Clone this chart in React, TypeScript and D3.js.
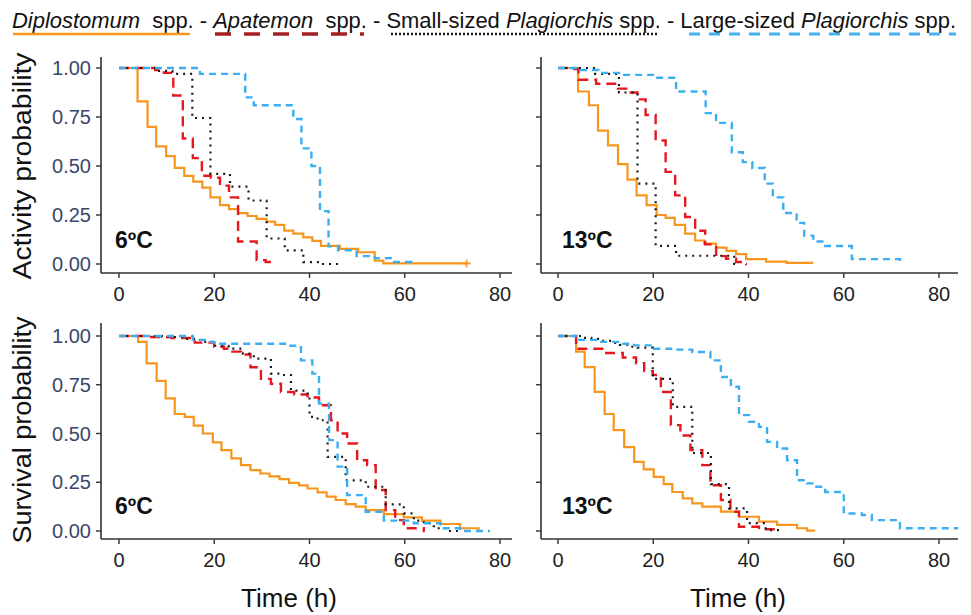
import React from 'react';
import * as d3 from 'd3';

type Pt = [number, number];

const timeTicks = [0, 20, 40, 60, 80];
const probTicks = [0, 0.25, 0.5, 0.75, 1];
const probLabels = ['0.00', '0.25', '0.50', '0.75', '1.00'];
const rowTitles = ['Activity probability', 'Survival probability'];
const colTemps = ['6ºC', '13ºC'];
const xTitle = 'Time (h)';

// ---- Activity, 6ºC ----
const dipAct6: Pt[] = [[0,1],[3.9,0.83],[6,0.70],[7.8,0.60],[9.9,0.55],[11.7,0.49],[13.7,0.45],[15.6,0.42],[17.5,0.39],[19.2,0.34],[21.2,0.30],[23.1,0.28],[25,0.26],[27,0.245],[28.9,0.23],[31,0.216],[32.8,0.20],[34.7,0.17],[36.6,0.155],[38.7,0.136],[40.6,0.118],[42.4,0.092],[46.4,0.077],[50.2,0.06],[53.7,0.017],[55.5,0.003],[73,0.003]];
const apaAct6: Pt[] = [[0,1],[7.6,0.99],[9.4,0.975],[11.4,0.86],[13.4,0.64],[15.5,0.54],[17.4,0.45],[19.3,0.44],[21.2,0.40],[23.1,0.34],[25,0.115],[28.9,0.02],[30.8,0.01],[32.6,0.01]];
const plaSAct6: Pt[] = [[0,1],[7.7,0.985],[11.2,0.97],[15.4,0.745],[19.2,0.46],[23.3,0.395],[27.2,0.324],[31,0.13],[34.8,0.07],[38.7,0.01],[42.4,0],[46,0]];
const plaLAct6: Pt[] = [[0,1],[17,0.97],[26.5,0.85],[28.3,0.81],[36.6,0.74],[38.3,0.59],[40.4,0.50],[42.2,0.27],[44,0.09],[46,0.07],[49.9,0.04],[53.7,0.03],[57.5,0.01],[61.4,0],[61.6,0]];

// ---- Activity, 13ºC ----
const dipAct13: Pt[] = [[0,1],[4.2,0.88],[6.5,0.81],[8.4,0.68],[10.5,0.605],[12.6,0.51],[14.6,0.43],[16.5,0.35],[18.6,0.30],[20.7,0.25],[22.6,0.235],[24.5,0.20],[26.7,0.155],[28.8,0.12],[30.7,0.104],[33.2,0.084],[35.4,0.067],[37.4,0.05],[39.5,0.025],[43.7,0.012],[48,0.006],[53.6,0.006]];
const apaAct13: Pt[] = [[0,1],[3,0.995],[4.3,0.94],[8,0.92],[12.6,0.895],[14.6,0.875],[16.7,0.84],[18.4,0.76],[20.5,0.63],[22.6,0.47],[24.6,0.35],[26.7,0.24],[28.8,0.17],[30.9,0.10],[33.2,0.04],[35.3,0.027],[37.4,0.01],[39.5,0],[39.7,0]];
const plaSAct13: Pt[] = [[0,1],[7.8,0.97],[12.8,0.875],[16.7,0.41],[20.5,0.092],[24.8,0.042],[37,0],[37.3,0]];
const plaLAct13: Pt[] = [[0,1],[4,0.99],[8.5,0.975],[12.8,0.965],[20.5,0.95],[24.8,0.88],[31,0.77],[33.2,0.72],[36.5,0.57],[38.8,0.52],[40.8,0.49],[43.4,0.41],[45.1,0.34],[47.3,0.26],[50.1,0.21],[51.7,0.145],[53.6,0.115],[55.8,0.092],[61.7,0.025],[71.8,0.01],[72.2,0.01]];

// ---- Survival, 6ºC ----
const dipSurv6: Pt[] = [[0,1],[4,0.97],[5.8,0.86],[7.9,0.77],[9.8,0.68],[11.7,0.60],[13.8,0.585],[15.7,0.54],[17.6,0.50],[19.7,0.454],[21.5,0.415],[23.6,0.372],[25.6,0.338],[27.6,0.312],[29.7,0.295],[31.6,0.28],[33.7,0.266],[35.7,0.247],[37.8,0.234],[39.6,0.218],[41.7,0.198],[43.6,0.176],[45.5,0.159],[47.6,0.138],[49.7,0.125],[51.8,0.107],[55.6,0.087],[59.8,0.07],[63.6,0.053],[67.5,0.036],[71.6,0.014],[75.5,0],[75.7,0]];
const apaSurv6: Pt[] = [[0,1],[6.5,0.995],[11,0.99],[15.9,0.966],[20,0.945],[22,0.935],[23.8,0.92],[25.6,0.905],[27.6,0.84],[29.8,0.78],[31.9,0.755],[34,0.713],[36.8,0.70],[39.6,0.685],[42,0.645],[44.5,0.568],[45.9,0.50],[47.9,0.449],[50,0.363],[52.1,0.338],[53.9,0.21],[56,0.107],[58,0.056],[59.8,0.014],[64,0],[64.2,0]];
const plaSSurv6: Pt[] = [[0,1],[9,0.995],[13.5,0.985],[17,0.97],[20,0.95],[23,0.935],[26,0.91],[28.3,0.884],[31.9,0.807],[34,0.80],[36.1,0.72],[39.6,0.69],[40,0.585],[41.7,0.568],[43.8,0.38],[47.6,0.26],[51.8,0.227],[56,0.137],[59.8,0.09],[61.9,0.053],[64,0.04],[66.1,0.014],[68.8,0],[71.6,0]];
const plaLSurv6: Pt[] = [[0,1],[15.5,0.98],[18,0.97],[20,0.96],[36,0.95],[38.2,0.875],[40.6,0.807],[42,0.653],[44.1,0.466],[45.9,0.33],[47.9,0.184],[51.8,0.099],[55.6,0.053],[61.9,0.04],[67.5,0.014],[71.6,0],[77.9,0]];

// ---- Survival, 13ºC ----
const dipSurv13: Pt[] = [[0,1],[3.8,0.92],[5.6,0.84],[7.7,0.713],[9.8,0.60],[11.7,0.517],[13.9,0.43],[16,0.355],[18,0.316],[20.1,0.278],[22.2,0.24],[24,0.20],[26.2,0.167],[28.2,0.142],[30.3,0.125],[34.2,0.099],[38,0.073],[42.2,0.048],[46,0.031],[50.2,0.014],[52.3,0.002],[54,0.002]];
const apaSurv13: Pt[] = [[0,1],[3.8,0.935],[9.8,0.913],[13.6,0.89],[16.4,0.86],[18.1,0.82],[19.9,0.80],[21.6,0.713],[23.7,0.543],[25.7,0.49],[27.8,0.415],[30.3,0.338],[32,0.235],[34.2,0.159],[36.2,0.099],[38,0.022],[42.2,0.009],[46,0],[46.2,0]];
const plaSSurv13: Pt[] = [[0,1],[4.9,0.99],[7,0.985],[9,0.975],[11.2,0.965],[13,0.955],[14.6,0.945],[16.7,0.94],[19.9,0.78],[24.1,0.637],[28.2,0.40],[32.1,0.24],[35.9,0.116],[39.7,0.04],[43.6,0.005],[47.4,0.005]];
const plaLSurv13: Pt[] = [[0,1],[3.8,0.98],[8.4,0.97],[12.6,0.96],[16,0.952],[20.2,0.935],[24.4,0.93],[28.2,0.918],[32,0.875],[34.2,0.79],[36.3,0.74],[38,0.594],[40.1,0.56],[42.2,0.534],[43.9,0.457],[46,0.423],[48.1,0.363],[50.2,0.26],[52.3,0.244],[54,0.227],[56.1,0.20],[60,0.09],[63.8,0.082],[65.9,0.056],[71.8,0.014],[84,0.014]];

const panelSeries: Pt[][][] = [
  [dipAct6, apaAct6, plaSAct6, plaLAct6],
  [dipAct13, apaAct13, plaSAct13, plaLAct13],
  [dipSurv6, apaSurv6, plaSSurv6, plaLSurv6],
  [dipSurv13, apaSurv13, plaSSurv13, plaLSurv13],
];

const seriesStyle = [
  { color: '#F7961E', dash: undefined as string | undefined, width: 2.2 },
  { color: '#E4181E', dash: '10,6', width: 2.4 },
  { color: '#1a1a1a', dash: '2,5', width: 2.2 },
  { color: '#3DAEEF', dash: '7,5', width: 2.4 },
];

const legendParts = [
  { text: 'Diplostomum', italic: true },
  { text: '\u00a0 spp. - ', italic: false },
  { text: 'Apatemon', italic: true },
  { text: '\u00a0 spp. - Small-sized ', italic: false },
  { text: 'Plagiorchis', italic: true },
  { text: ' spp. - Large-sized ', italic: false },
  { text: 'Plagiorchis', italic: true },
  { text: ' spp.', italic: false },
];
const legendKeys = [
  { x1: 13, x2: 190, color: '#F7961E', dash: undefined as string | undefined, width: 2.6 },
  { x1: 215, x2: 364, color: '#A51E22', dash: '16,13', width: 3.4 },
  { x1: 391, x2: 658, color: '#1a1a1a', dash: '2,2', width: 2.4 },
  { x1: 689, x2: 956, color: '#42B1F2', dash: '11,9', width: 3 },
];

const cols = [
  { axisX: 101, x0: 119, x80: 500, right: 512, titleX: 289, tempX: 115 },
  { axisX: 541, x0: 558, x80: 939, right: 958, titleX: 738, tempX: 562 },
];
const rows = [
  { y0: 264, y1: 68, axisY: 273, top: 57, titleY: 166, tempY: 248 },
  { y0: 531, y1: 336, axisY: 539, top: 323, titleY: 430, tempY: 514 },
];

const FONT = "'Liberation Sans', Arial, Helvetica, sans-serif";
const AXIS = '#333333';

export default function App() {
  const panels = [] as React.ReactNode[];
  for (let r = 0; r < 2; r++) {
    for (let c = 0; c < 2; c++) {
      const col = cols[c];
      const row = rows[r];
      const xs = d3.scaleLinear().domain([0, 80]).range([col.x0, col.x80]);
      const ys = d3.scaleLinear().domain([0, 1]).range([row.y0, row.y1]);
      const line = d3.line<Pt>().x(d => xs(d[0])).y(d => ys(d[1])).curve(d3.curveStepAfter);
      const data = panelSeries[r * 2 + c];
      panels.push(
        <g key={`p${r}${c}`}>
          {data.map((s, i) => (
            <path key={i} d={line(s) || ''} fill="none" stroke={seriesStyle[i].color}
              strokeWidth={seriesStyle[i].width} strokeDasharray={seriesStyle[i].dash} />
          ))}
          {r === 0 && c === 0 && (() => {
            const last = dipAct6[dipAct6.length - 1];
            const cx = xs(last[0]), cy = ys(last[1]);
            return <path d={`M${cx - 4},${cy}H${cx + 4}M${cx},${cy - 4}V${cy + 4}`} stroke={seriesStyle[0].color} strokeWidth={1.6} />;
          })()}
          <line x1={col.axisX} x2={col.axisX} y1={row.top} y2={row.axisY} stroke={AXIS} strokeWidth={1.6} />
          <line x1={col.axisX} x2={col.right} y1={row.axisY} y2={row.axisY} stroke={AXIS} strokeWidth={1.6} />
          {probTicks.map((t, i) => (
            <g key={`y${i}`}>
              <line x1={col.axisX - 5} x2={col.axisX} y1={ys(t)} y2={ys(t)} stroke={AXIS} strokeWidth={1.4} />
              {c === 0 && (
                <text x={col.axisX - 10} y={ys(t)} dy="0.36em" textAnchor="end" fontSize={20}
                  fill="#3a466b" fontFamily={FONT}>{probLabels[i]}</text>
              )}
            </g>
          ))}
          {timeTicks.map((t, i) => (
            <g key={`x${i}`}>
              <line x1={xs(t)} x2={xs(t)} y1={row.axisY} y2={row.axisY + 5} stroke={AXIS} strokeWidth={1.4} />
              <text x={xs(t)} y={row.axisY + 28} textAnchor="middle" fontSize={20} fill="#222"
                fontFamily={FONT}>{String(t)}</text>
            </g>
          ))}
          <text x={col.tempX} y={row.tempY} fontSize={23} fontWeight="bold" fill="#111" fontFamily={FONT}>{colTemps[c]}</text>
          {c === 0 && (
            <text transform={`translate(31,${row.titleY}) rotate(-90)`} textAnchor="middle" fontSize={25}
              fill="#111" fontFamily={FONT} textLength={227} lengthAdjust="spacingAndGlyphs">{rowTitles[r]}</text>
          )}
          {r === 1 && (
            <text x={col.titleX} y={607} textAnchor="middle" fontSize={26} fill="#111" fontFamily={FONT}>{xTitle}</text>
          )}
        </g>
      );
    }
  }

  return (
    <svg width={971} height={615} viewBox="0 0 971 615"
      style={{ position: 'absolute', left: 0, top: 0, background: '#fff' }}>
      <rect x={0} y={0} width={971} height={615} fill="#fff" />
      <text x={12} y={28} fontSize={21.5} fill="#111" fontFamily={FONT} textLength={944}
        lengthAdjust="spacingAndGlyphs" style={{ whiteSpace: 'pre' }}>
        {legendParts.map((p, i) => (
          <tspan key={i} fontStyle={p.italic ? 'italic' : 'normal'}>{p.text}</tspan>
        ))}
      </text>
      {legendKeys.map((k, i) => (
        <line key={i} x1={k.x1} x2={k.x2} y1={34} y2={34} stroke={k.color} strokeWidth={k.width}
          strokeDasharray={k.dash} />
      ))}
      {panels}
    </svg>
  );
}
